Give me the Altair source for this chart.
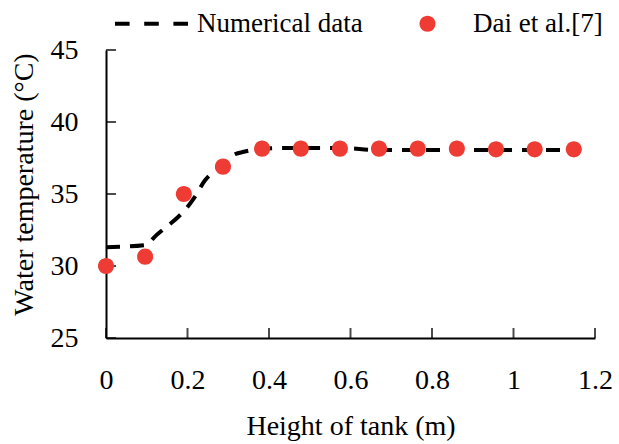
import altair as alt
import pandas as pd

# Numerical data (dashed line)
line_x = [0, 0.096, 0.124, 0.152, 0.177, 0.2, 0.218, 0.243, 0.263, 0.287, 0.312, 0.341,
          0.383, 0.478, 0.574, 0.670, 0.765, 0.861, 0.957, 1.052, 1.148]
line_y = [31.3, 31.45, 32.15, 32.8, 33.4, 34.1, 34.8, 35.95, 36.55, 37.1, 37.7, 37.95,
          38.15, 38.2, 38.2, 38.05, 38.05, 38.05, 38.05, 38.05, 38.05]

# Dai et al.[7] (red points)
pt_x = [0, 0.096, 0.191, 0.287, 0.383, 0.478, 0.574, 0.670, 0.765, 0.861, 0.957, 1.052, 1.148]
pt_y = [30.0, 30.65, 35.0, 36.9, 38.15, 38.15, 38.15, 38.15, 38.15, 38.15, 38.1, 38.1, 38.1]

series_names = ["Numerical data", "Dai et al.[7]"]
x_ticks = [0, 0.2, 0.4, 0.6, 0.8, 1.0, 1.2]
y_ticks = [25, 30, 35, 40, 45]

FONT = "Liberation Serif"
RED = "#EE3B33"

line_df = pd.DataFrame({"x": line_x, "y": line_y})
pt_df = pd.DataFrame({"x": pt_x, "y": pt_y, "s": series_names[1]})
xt_df = pd.DataFrame({"x": x_ticks})
yt_df = pd.DataFrame({"y": y_ticks})

xs = alt.Scale(domain=[0, 1.2], nice=False, zero=False)
ys = alt.Scale(domain=[25, 45], nice=False, zero=False)

x_title = "Height of tank (m)"
y_title = "Water temperature (°C)"

common_axis = dict(ticks=False, grid=False, domainColor="black", domainWidth=2,
                   labelFont=FONT, labelFontSize=28, labelColor="black",
                   titleFont=FONT, titleFontSize=28, titleColor="black",
                   titleFontWeight="normal", labelFlush=False, labelOverlap=False)
xaxis = alt.Axis(values=x_ticks, format="~g", labelPadding=28, titlePadding=18,
                 title=x_title, **common_axis)
yaxis = alt.Axis(values=y_ticks, format="d", labelPadding=28, titlePadding=12,
                 titleY=134, title=y_title, **common_axis)

X = alt.X("x:Q", scale=xs, axis=xaxis, title=x_title)
Y = alt.Y("y:Q", scale=ys, axis=yaxis, title=y_title)

dash_path = ("M-1,-0.055H-0.6V0.055H-1Z M-0.2,-0.055H0.2V0.055H-0.2Z "
             "M0.6,-0.055H1V0.055H0.6Z")
circle_path = "M0.22,0A0.22,0.22,0,1,1,-0.22,0A0.22,0.22,0,1,1,0.22,0Z"
SYM = 5329

line = alt.Chart(line_df).mark_line(
    color="black", strokeWidth=4, strokeDash=[14, 10], interpolate="monotone"
).encode(x=X, y=Y)

leg = alt.Legend(title=None, orient="none", legendX=9, legendY=-63, direction="horizontal",
                 symbolSize=SYM, labelFont=FONT, labelFontSize=27, labelColor="black",
                 labelOffset=9, columnPadding=28, labelLimit=400, padding=0,
                 symbolStrokeWidth=0)

points = alt.Chart(pt_df).mark_point(
    filled=True, size=SYM, opacity=1, strokeWidth=0
).encode(
    x=X, y=Y,
    color=alt.Color("s:N", scale=alt.Scale(domain=series_names, range=["black", RED]), legend=leg),
    shape=alt.Shape("s:N", scale=alt.Scale(domain=series_names, range=[dash_path, circle_path]), legend=leg),
)

xticks = alt.Chart(xt_df).mark_tick(
    orient="vertical", size=10, thickness=2, color="black", yOffset=-5
).encode(x=X, y=alt.YDatum(25, scale=ys, axis=yaxis, title=y_title))

yticks = alt.Chart(yt_df).mark_tick(
    orient="horizontal", size=10, thickness=2, color="black", xOffset=5
).encode(y=Y, x=alt.XDatum(0, scale=xs, axis=xaxis, title=x_title))

chart = alt.layer(xticks, yticks, line, points).properties(
    width=489, height=288,
    autosize=alt.AutoSizeParams(type="none"),
    padding={"left": 106, "top": 50, "right": 24, "bottom": 106},
    background="white",
).configure_view(stroke=None)

chart.save("out.html", embed_options={"renderer": "svg", "actions": False})
